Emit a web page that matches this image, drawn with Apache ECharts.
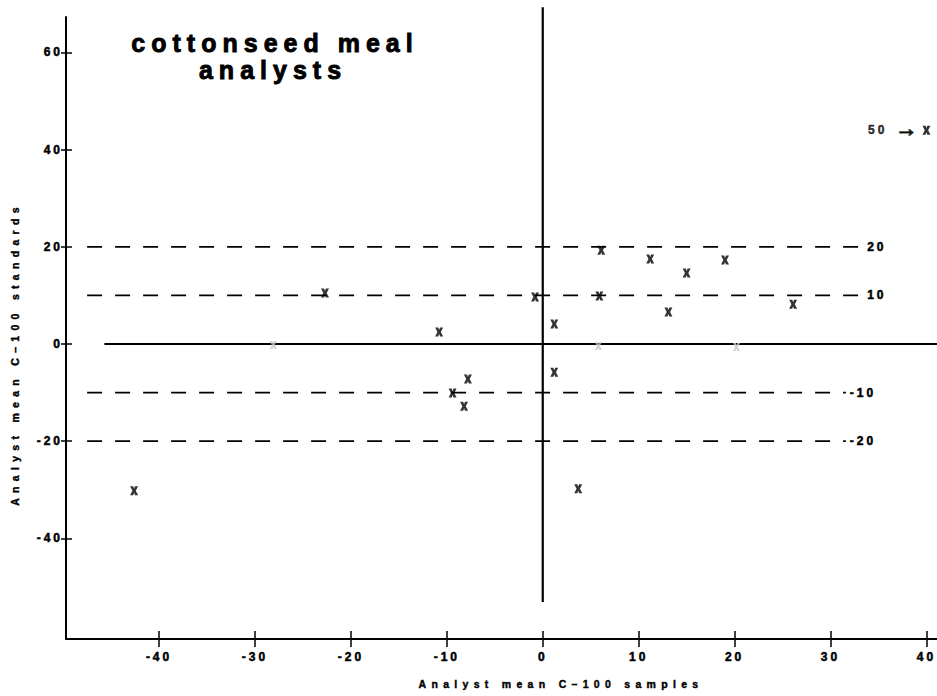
<!DOCTYPE html>
<html>
<head>
<meta charset="utf-8">
<script src="https://cdn.jsdelivr.net/npm/echarts@6/dist/echarts.min.js"></script>
<style>
html,body{margin:0;padding:0;background:#fff;}
#chart{width:937px;height:696px;}
#chart text{letter-spacing:3px;}
</style>
</head>
<body>
<div id="chart"></div>
<script>
// ---- text ----
const titleLines = ['cottonseed meal', 'analysts'];
const xAxisName = 'Analyst mean C\u2013100 samples';
const yAxisName = 'Analyst mean C\u2013100 standards';
// ---- ticks ----
const xTicks = [-40, -30, -20, -10, 0, 10, 20, 30, 40];
const yTicks = [-40, -20, 0, 20, 40, 60];
// ---- analyst points (x = samples, y = standards) ----
const analystX = [-22.7, -10.8, -0.8, 1.2, 1.2, 6.1, 5.9, 11.2, 15.0, 13.1, 19.0, 26.1, -9.4, -7.8, -8.2, -42.6, 3.7];
const analystY = [10.5, 2.5, 9.7, 4.1, -5.8, 19.3, 9.9, 17.5, 14.6, 6.6, 17.3, 8.2, -10.1, -7.2, -12.8, -30.2, -29.8];
// faint (erased) marks on the zero line
const faintX = [-28.1, 5.8, 20.2];
const faintY = [-0.2, -0.4, -0.6];
// off-scale analyst: drawn at the right edge, labelled with its true x value
const offScaleX = [40];
const offScaleY = [44];
const offScaleValue = ['50'];
// ---- reference lines ----
const refLevels = [20, 10, -10, -20];
const refLabels = ['20', '10', '-10', '-20'];
const refStart = [-47.5, -47.5, -47.5, -47.5];
const refEnd = [33.4, 33.4, 31.6, 31.6];

const X_MIN = -49.7, X_MAX = 41.1, Y_MIN = -60.7, Y_MAX = 67.3;
const FONT = '"Liberation Sans", Arial, Helvetica, sans-serif';
const X_PATH = 'path://M0,0H3.9L5,2.8L6.1,0H10L7.1,5L10,10H6.1L5,7.2L3.9,10H0L2.9,5Z';

const chart = echarts.init(document.getElementById('chart'), null, {renderer: 'svg'});

const pts = (xs, ys) => xs.map((x, i) => [x, ys[i]]);
const heavy = {textBorderColor: '#000', textBorderWidth: 0.5};

const series = [];
// zero lines
series.push({
  type: 'line', data: [[0, 69.3], [0, -53.1]], symbol: 'none', clip: false, silent: true,
  lineStyle: {color: '#000', width: 2.2}, z: 3
});
series.push({
  type: 'line', data: [[-45.7, 0], [X_MAX, 0]], symbol: 'none', clip: false, silent: true,
  lineStyle: {color: '#000', width: 2}, z: 3
});
// dashed reference lines
refLevels.forEach((v, i) => {
  series.push({
    type: 'line', data: [[refStart[i], v], [refEnd[i], v]], symbol: 'none', silent: true,
    lineStyle: {color: '#000', width: 1.8, type: [15, 13]},
    endLabel: Object.assign({show: true, formatter: refLabels[i], distance: 4, color: '#000',
      fontSize: 12, fontWeight: 'bold', fontFamily: FONT}, heavy),
    z: 3
  });
});
// faint marks
series.push({
  type: 'scatter', data: pts(faintX, faintY), symbol: X_PATH, symbolSize: [7, 8],
  itemStyle: {color: '#c9c9c9'}, silent: true, z: 4
});
// analysts
series.push({
  type: 'scatter', data: pts(analystX, analystY), symbol: X_PATH, symbolSize: [8, 9],
  itemStyle: {color: '#000'}, z: 5
});
// off-scale analyst
series.push({
  type: 'scatter', data: pts(offScaleX, offScaleY), symbol: X_PATH, symbolSize: [8, 9],
  itemStyle: {color: '#000'}, clip: false, z: 5,
  label: Object.assign({show: true, position: 'left', distance: 5,
    formatter: (p) => '{v|' + offScaleValue[p.dataIndex] + '}{a|\u2192}',
    color: '#000', fontFamily: FONT,
    rich: {
      v: {fontSize: 12, fontWeight: 'bold', fontFamily: FONT, color: '#000', padding: [0, 8, 0, 0],
        textBorderColor: '#000', textBorderWidth: 0.5},
      a: {fontSize: 22, fontWeight: 'bold', fontFamily: FONT, color: '#000', padding: [0, 0, 3, 0],
        textBorderColor: '#000', textBorderWidth: 1.3}
    }}, heavy)
});

const labelStyle = Object.assign({color: '#000', fontSize: 12, fontWeight: 'bold', fontFamily: FONT}, heavy);

const option = {
  backgroundColor: '#fff',
  animation: false,
  grid: {left: 66, right: 0, top: 17, bottom: 57, containLabel: false},
  xAxis: [{
    type: 'value', min: X_MIN, max: X_MAX,
    axisLine: {show: true, onZero: false, lineStyle: {color: '#000', width: 2}},
    axisTick: {show: true, inside: false, length: 8, customValues: xTicks, lineStyle: {color: '#000', width: 1.5}},
    axisLabel: Object.assign({show: true, margin: 12, customValues: xTicks, formatter: (v) => String(v)}, labelStyle),
    splitLine: {show: false}
  }, {
    type: 'value', min: X_MIN, max: X_MAX, position: 'bottom',
    axisLine: {show: false, onZero: false},
    axisTick: {show: true, inside: true, length: 8, customValues: xTicks, lineStyle: {color: '#000', width: 1.5}},
    axisLabel: {show: false},
    splitLine: {show: false}
  }],
  yAxis: [{
    type: 'value', min: Y_MIN, max: Y_MAX,
    axisLine: {show: true, onZero: false, lineStyle: {color: '#000', width: 2}},
    axisTick: {show: true, inside: false, length: 5, customValues: yTicks, lineStyle: {color: '#000', width: 1.5}},
    axisLabel: Object.assign({show: true, margin: 3, customValues: yTicks, formatter: (v) => String(v)}, labelStyle),
    splitLine: {show: false}
  }, {
    type: 'value', min: Y_MIN, max: Y_MAX, position: 'left',
    axisLine: {show: false, onZero: false},
    axisTick: {show: true, inside: true, length: 6, customValues: yTicks, lineStyle: {color: '#000', width: 1.5}},
    axisLabel: {show: false},
    splitLine: {show: false}
  }],
  graphic: [
    {type: 'text', x: 275, y: 43, silent: true,
      style: {text: titleLines[0], font: 'bold 25px ' + FONT, fill: '#000', stroke: '#000', lineWidth: 0.9,
        align: 'center', verticalAlign: 'middle', textAlign: 'center', textVerticalAlign: 'middle'}},
    {type: 'text', x: 273, y: 70, silent: true,
      style: {text: titleLines[1], font: 'bold 25px ' + FONT, fill: '#000', stroke: '#000', lineWidth: 0.9,
        align: 'center', verticalAlign: 'middle', textAlign: 'center', textVerticalAlign: 'middle'}},
    {type: 'text', x: 561, y: 684, silent: true,
      style: {text: xAxisName, font: 'bold 10.5px ' + FONT, fill: '#000', stroke: '#000', lineWidth: 0.4,
        align: 'center', verticalAlign: 'middle', textAlign: 'center', textVerticalAlign: 'middle'}},
    {type: 'text', x: 15, y: 354, rotation: Math.PI / 2, silent: true,
      style: {text: yAxisName, font: 'bold 10.5px ' + FONT, fill: '#000', stroke: '#000', lineWidth: 0.4,
        align: 'center', verticalAlign: 'middle', textAlign: 'center', textVerticalAlign: 'middle'}}
  ],
  series: series
};

option.series.forEach(s => { s.xAxisIndex = 0; s.yAxisIndex = 0; });

chart.setOption(option);

function applySpacing() {
  document.querySelectorAll('#chart text').forEach(t => {
    const fs = parseFloat(getComputedStyle(t).fontSize) || 12;
    let ls = 3;
    if (fs >= 24) ls = 6;
    else if (fs >= 16) ls = 0;
    else if (fs <= 11) ls = 5.3;
    t.style.letterSpacing = ls + 'px';
  });
}
applySpacing();
chart.on('finished', applySpacing);
</script>
</body>
</html>
